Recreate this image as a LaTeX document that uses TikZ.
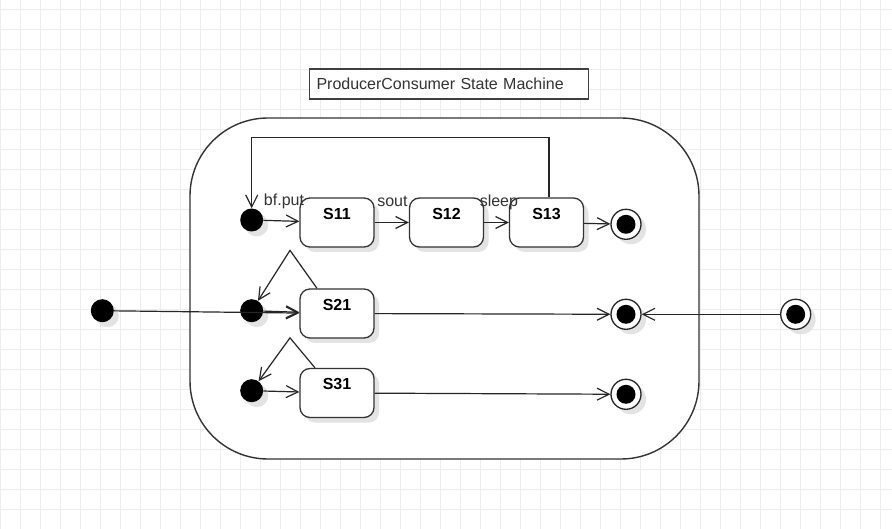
\documentclass[tikz,border=0pt]{standalone}
\usepackage{fontspec}
\setmainfont{Liberation Sans}
\usetikzlibrary{arrows.meta,shadows}
\tikzstyle{shd}=[drop shadow={shadow xshift=5pt, shadow yshift=-5pt, opacity=1, fill=black!11}]
\tikzstyle{st}=[fill=white, draw=black!80, shape=rectangle, rounded corners=10pt, minimum width=74pt, minimum height=49pt, line width=1.3pt, font=\fontsize{16}{19}\selectfont\bfseries, text height=12pt, text depth=18.6pt, style=shd]
\tikzstyle{ini}=[fill=black, shape=circle, minimum size=23pt, inner sep=0pt, style=shd]
\tikzstyle{fin}=[fill=white, draw=black!85, shape=circle, minimum size=30pt, inner sep=0pt, line width=1.3pt, style=shd]
\tikzstyle{trans}=[draw=black!85, line width=1.2pt, -{Straight Barb[length=12pt,width=12pt]}]
\tikzstyle{lbl}=[text=black!80, inner sep=0pt, anchor=base west]

\begin{document}
\begin{tikzpicture}[x=1pt, y=-1pt, font=\fontsize{16}{19}\selectfont]
		\useasboundingbox (0,0) rectangle (892,529);
		\fill[white] (0,0) rectangle (892,529);
		\foreach \i in {0,...,44} \draw[black!7, line width=0.8pt] (0.7+20*\i,0) -- (0.7+20*\i,529);
		\foreach \i in {0,...,26} \draw[black!7, line width=0.8pt] (0,9.3+20*\i) -- (892,9.3+20*\i);

		\node [draw=black!75, line width=1.4pt, fill=white, minimum width=279pt, minimum height=30pt, text width=265pt, inner xsep=7pt, align=left, text=black!80] (title) at (449, 84) {ProducerConsumer State Machine};
		\node [draw=black!80, line width=1.4pt, fill=white, rounded corners=78pt, minimum width=509pt, minimum height=341pt] (box) at (444.5, 288.5) {};

		\node [style=ini] (0) at (102.3, 310.7) {};
		\node [style=ini] (10) at (251.7, 220) {};
		\node [style=ini] (20) at (251.7, 310.7) {};
		\node [style=ini] (30) at (251.7, 390.7) {};

		\node [style=st] (11) at (337, 222.5) {S11};
		\node [style=st] (12) at (446.5, 222.5) {S12};
		\node [style=st] (13) at (546.5, 222.5) {S13};
		\node [style=st] (21) at (337, 313.5) {S21};
		\node [style=st] (31) at (337, 393) {S31};

		\node [style=fin] (14) at (626, 224.3) {};
		\node [style=fin] (22) at (626, 314.3) {};
		\node [style=fin] (32) at (626, 394.3) {};
		\node [style=fin] (40) at (795.7, 314.3) {};
		\foreach \n in {14,22,32,40} \fill (\n) circle (9.5pt);

		\draw [style=trans] (10) to node [style=lbl, pos=0, yshift=15pt] (put) {bf.put} (11);
		\draw [style=trans] (11) to node [style=lbl, pos=0, xshift=2pt, yshift=16pt] (sout) {sout} (12);
		\draw [style=trans] (12) to node [style=lbl, pos=0, xshift=-5pt, yshift=16pt] (sleep) {sleep} (13);
		\draw [style=trans] (13) to (14);
		\draw [style=trans] ([xshift=2.5pt]13.north) -- ++(0,-60) -| (10);

		\draw [style=trans] (0) to (21);
		\draw [style=trans] (20) to (21);
		\draw [style=trans] (21) to (22);
		\draw [style=trans] (40) to (22);
		\draw [style=trans] ([xshift=-20pt]21.north) -- ++(-27,-38) -- (20);

		\draw [style=trans] (30) to (31);
		\draw [style=trans] (31) to (32);
		\draw [style=trans] ([xshift=-22pt]31.north) -- ++(-25,-30) -- (30);
	\end{tikzpicture}
\end{document}
